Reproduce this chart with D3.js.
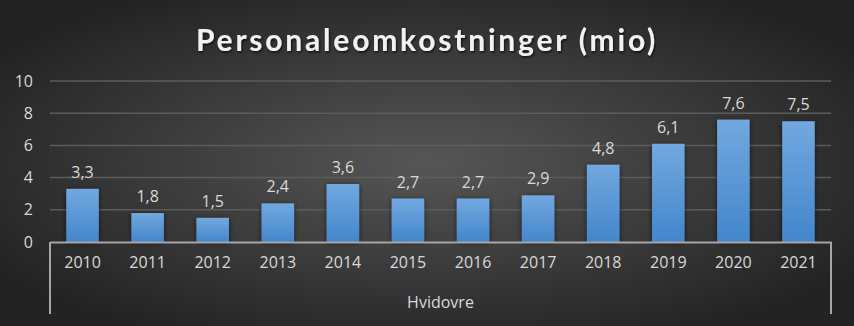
<!DOCTYPE html>
<html><head><meta charset="utf-8">
<script src="https://cdn.jsdelivr.net/npm/d3@7"></script>
<style>body{margin:0;background:#333}svg{display:block}</style>
</head><body>
<svg id="c" width="854" height="326"></svg>
<script>
const categories = ["2010","2011","2012","2013","2014","2015","2016","2017","2018","2019","2020","2021"];
const values = [3.3,1.8,1.5,2.4,3.6,2.7,2.7,2.9,4.8,6.1,7.6,7.5];
const yTicks = [0,2,4,6,8,10];
const groupLabel = "Hvidovre";
const title = "Personaleomkostninger (mio)";

const W=854,H=326;
const svg=d3.select("#c");
const defs=svg.append("defs");
const bg=defs.append("radialGradient").attr("id","bg").attr("cx","50%").attr("cy","50%").attr("r","60%");
bg.append("stop").attr("offset","0%").attr("stop-color","#565656");
bg.append("stop").attr("offset","100%").attr("stop-color","#232323");
const bar=defs.append("linearGradient").attr("id","bar").attr("x1",0).attr("y1",0).attr("x2",0).attr("y2",1);
bar.append("stop").attr("offset","0%").attr("stop-color","#72a8df");
bar.append("stop").attr("offset","100%").attr("stop-color","#4386cc");
const sh=defs.append("filter").attr("id","sh").attr("x","-30%").attr("y","-30%").attr("width","160%").attr("height","160%");
sh.append("feDropShadow").attr("dx",0).attr("dy",1).attr("stdDeviation",2.5).attr("flood-color","#000").attr("flood-opacity",0.6);
const tsh=defs.append("filter").attr("id","tsh");
tsh.append("feDropShadow").attr("dx",1).attr("dy",1.5).attr("stdDeviation",1).attr("flood-color","#000").attr("flood-opacity",0.7);

svg.append("rect").attr("width",W).attr("height",H).attr("fill","url(#bg)");

const x=d3.scaleBand().domain(categories).range([50,831]).paddingInner(0.5).paddingOuter(0.25);
const y=d3.scaleLinear().domain([0,10]).range([242,81]);

svg.append("text").attr("x",427).attr("y",51).attr("text-anchor","middle")
 .attr("font-family","Lato, 'Open Sans', sans-serif").attr("font-weight","bold").attr("font-size",30)
 .attr("letter-spacing","2.8px").attr("fill","#f2f2f2").attr("filter","url(#tsh)").text(title);

// gridlines
svg.append("g").selectAll("line").data(yTicks.filter(d=>d>0)).join("line")
 .attr("x1",50).attr("x2",831).attr("y1",d=>y(d)).attr("y2",d=>y(d))
 .attr("stroke","#5c5c5c").attr("stroke-width",1.5);

const yAxis=svg.append("g").attr("transform","translate(50,0)")
 .call(d3.axisLeft(y).tickValues(yTicks).tickSize(0).tickPadding(17).tickFormat(d3.format("d")));
yAxis.select(".domain").remove();
yAxis.selectAll("text").attr("font-family","'Open Sans', sans-serif").attr("font-size",16).attr("fill","#d9d9d9");

// bars
svg.append("g").selectAll("rect").data(values).join("rect")
 .attr("x",(d,i)=>x(categories[i])).attr("width",x.bandwidth())
 .attr("y",d=>y(d)).attr("height",d=>y(0)-y(d))
 .attr("fill","url(#bar)").attr("filter","url(#sh)");

// data labels
const fmt=d=>d3.format(".1f")(d).replace(".",",");
svg.append("g").selectAll("text").data(values).join("text")
 .attr("x",(d,i)=>x(categories[i])+x.bandwidth()/2).attr("y",d=>y(d)-11)
 .attr("text-anchor","middle").attr("font-family","'Open Sans', sans-serif").attr("font-size",16)
 .attr("fill","#d9d9d9").text(fmt);

// x axis
const xAxis=svg.append("g").attr("transform","translate(0,242)")
 .call(d3.axisBottom(x).tickSize(0).tickPadding(15));
xAxis.select(".domain").attr("stroke","#a6a6a6").attr("stroke-width",2);
xAxis.selectAll("text").attr("font-family","'Open Sans', sans-serif").attr("font-size",16).attr("fill","#d9d9d9");
[50,831].forEach(px=>svg.append("line").attr("x1",px).attr("x2",px).attr("y1",242).attr("y2",314)
 .attr("stroke","#a6a6a6").attr("stroke-width",2));
svg.append("text").attr("x",(50+831)/2).attr("y",308).attr("text-anchor","middle")
 .attr("font-family","'Open Sans', sans-serif").attr("font-size",16).attr("fill","#d9d9d9").text(groupLabel);
</script>
</body></html>
